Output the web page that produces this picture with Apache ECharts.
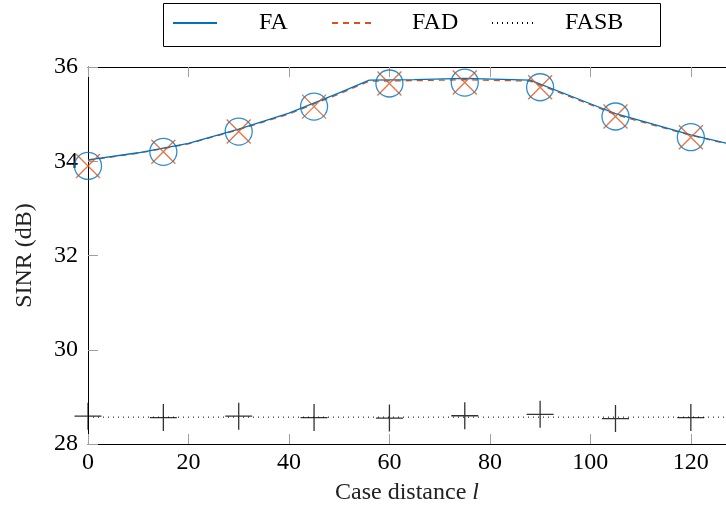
<!DOCTYPE html>
<html>
<head>
<meta charset="utf-8">
<script src="https://cdn.jsdelivr.net/npm/echarts@6/dist/echarts.min.js"></script>
<style>
  html, body { margin: 0; padding: 0; background: #fff; }
  #chart { width: 726px; height: 512px; }
</style>
</head>
<body>
<div id="chart"></div>
<script>
// curves (dense) and the marker points
const lineX = [0, 10, 20, 30, 40, 50, 56, 65, 75, 88, 100, 105, 110, 120, 130];
const faLine = [34.03, 34.18, 34.38, 34.68, 35.02, 35.45, 35.72, 35.73, 35.76, 35.72, 35.22, 35.01, 34.86, 34.56, 34.31];
const fadLine = [34.02, 34.17, 34.37, 34.67, 35.00, 35.43, 35.70, 35.71, 35.73, 35.70, 35.20, 34.99, 34.84, 34.55, 34.30];
const fasbX = [0, 30, 60, 90, 120, 130];
const fasbLine = [28.57, 28.57, 28.57, 28.57, 28.57, 28.57];

const markX = [0, 15, 30, 45, 60, 75, 90, 105, 120];
const faMarks = [33.90, 34.20, 34.63, 35.16, 35.65, 35.67, 35.57, 34.95, 34.51];
const fadMarks = [33.90, 34.20, 34.63, 35.16, 35.65, 35.67, 35.57, 34.95, 34.51];
const fasbMarks = [28.59, 28.56, 28.59, 28.56, 28.55, 28.60, 28.63, 28.54, 28.56];

const xTicks = [0, 20, 40, 60, 80, 100, 120];
const yTicks = [28, 30, 32, 34, 36];
const legendNames = ["FA", "FAD", "FASB"];

const BLUE = "#0072BD";
const ORANGE = "#D95319";
const FONT = "Liberation Serif";
const FS = 24;

const zip = (xs, ys) => xs.map((x, i) => [x, ys[i]]);

const chart = echarts.init(document.getElementById("chart"));

const tickStyle = { show: true, inside: true, length: 10, lineStyle: { color: "#a0a0a0", width: 1 } };

// one legend per entry so the spacing matches the boxed legend of the figure
const legendLeft = [172, 331, 491];
const legendPad = [37, 31, 24];
const legends = legendNames.map((name, i) => ({
    data: [name],
    left: legendLeft[i],
    top: 11,
    padding: 0,
    itemWidth: 44,
    itemHeight: 14,
    itemStyle: { color: "transparent", borderColor: "transparent", borderWidth: 0 },
    textStyle: { fontFamily: FONT, fontSize: FS, color: "#000", padding: [0, 0, 0, legendPad[i]] },
    selectedMode: false
}));

chart.setOption({
    animation: false,
    textStyle: { fontFamily: FONT },
    grid: { left: 88, top: 67, right: 0, bottom: 68, containLabel: false },
    graphic: [{
        type: "rect", left: 163, top: 3, z: 1,
        shape: { width: 497, height: 43 },
        style: { fill: "#fff", stroke: "#000", lineWidth: 1 }
    }],
    legend: legends,
    xAxis: [
        {
            type: "value", min: 0, max: 127, interval: 20,
            name: "{a|Case distance }{b|l}",
            nameLocation: "middle", nameGap: 37,
            nameTextStyle: {
                rich: {
                    a: { fontFamily: FONT, fontSize: FS, color: "#222" },
                    b: { fontFamily: FONT, fontSize: FS, color: "#222", fontStyle: "italic" }
                }
            },
            axisLine: { show: true, lineStyle: { color: "#000", width: 1 } },
            axisTick: tickStyle,
            axisLabel: {
                margin: 7, fontSize: FS, color: "#000", fontFamily: FONT,
                customValues: xTicks
            },
            splitLine: { show: false }
        },
        {
            type: "value", min: 0, max: 127, interval: 20, position: "top",
            axisLine: { show: true, lineStyle: { color: "#000", width: 1 } },
            axisTick: tickStyle,
            axisLabel: { show: false },
            splitLine: { show: false }
        }
    ],
    yAxis: {
        type: "value", min: 28, max: 36, interval: 2,
        name: "SINR (dB)",
        nameLocation: "middle", nameGap: 51,
        nameTextStyle: { fontFamily: FONT, fontSize: FS, color: "#222" },
        axisLine: { show: true, lineStyle: { color: "#000", width: 1 } },
        axisTick: tickStyle,
        axisLabel: { margin: 10, fontSize: FS, color: "#000", fontFamily: FONT, customValues: yTicks },
        splitLine: { show: false }
    },
    series: [
        {
            name: "FA", type: "line", data: zip(lineX, faLine), symbol: "none",
            lineStyle: { color: BLUE, width: 1.3 }, itemStyle: { color: BLUE }, z: 3
        },
        {
            name: "FAD", type: "line", data: zip(lineX, fadLine), symbol: "none",
            lineStyle: { color: ORANGE, width: 1.3, type: [6, 5] }, itemStyle: { color: ORANGE }, z: 2
        },
        {
            name: "FASB", type: "line", data: zip(fasbX, fasbLine), symbol: "none",
            lineStyle: { color: "#000", width: 1, type: [1, 4] }, itemStyle: { color: "#000" }, z: 2
        },
        {
            name: "FA marks", type: "scatter", data: zip(markX, faMarks),
            symbol: "circle", symbolSize: 27,
            itemStyle: { color: "transparent", borderColor: BLUE, borderWidth: 1.3 }, z: 4
        },
        {
            name: "FAD marks", type: "scatter", data: zip(markX, fadMarks),
            symbol: "path://M0,0L10,10M10,0L0,10", symbolSize: 24,
            itemStyle: { color: "transparent", borderColor: ORANGE, borderWidth: 1.3 }, z: 5
        },
        {
            name: "FASB marks", type: "scatter", data: zip(markX, fasbMarks),
            symbol: "path://M5,0L5,10M0,5L10,5", symbolSize: 27,
            itemStyle: { color: "transparent", borderColor: "#000", borderWidth: 1.3 }, z: 4
        }
    ]
});
</script>
</body>
</html>
